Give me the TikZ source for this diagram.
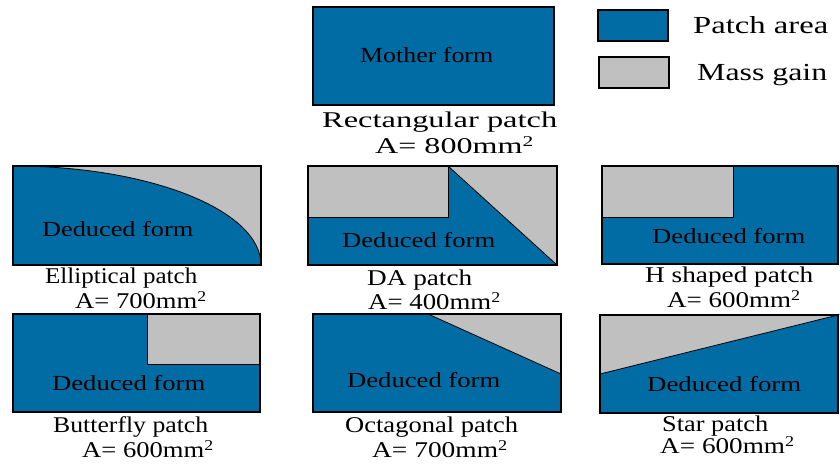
\documentclass[tikz,border=0pt]{standalone}
\usepackage{fontspec}
\usepackage{graphicx}
\setmainfont{Liberation Serif}
\definecolor{patchblue}{RGB}{0,108,163}
\definecolor{massgray}{RGB}{192,192,192}
% stretch a label to a given width (in pt) while keeping its height
\newcommand{\fitw}[2]{\resizebox{#1pt}{\height}{#2}}
\newcommand{\sqmm}{mm\raisebox{0.3em}{\fontsize{15}{15}\selectfont 2}}
\tikzset{
  outline/.style={draw=black,line width=1.1pt},
  cut/.style={draw=black,line width=0.8pt},
  blue/.style={fill=patchblue},
  gray/.style={fill=massgray},
  lbl/.style={anchor=base west,inner sep=0pt,font=\fontsize{22.5}{26}\selectfont,text=black},
  inlbl/.style={anchor=base west,inner sep=0pt,font=\fontsize{21.5}{25}\selectfont,text=black},
  leglbl/.style={anchor=base west,inner sep=0pt,font=\fontsize{24.5}{28}\selectfont,text=black},
}
\begin{document}
\begin{tikzpicture}[x=1pt,y=-1pt]
\useasboundingbox (0,0) rectangle (840,463);

% ---- mother form ----
\filldraw[blue,outline] (313,7) rectangle (554,105);
\node[inlbl] (mother) at (360,62) {\fitw{133}{Mother form}};
\node[lbl] (rectname) at (322,127) {\fitw{235}{Rectangular patch}};
\node[lbl] (rectarea) at (375,153) {\fitw{158}{A= 800\sqmm}};

% ---- legend ----
\filldraw[blue,outline] (598,10) rectangle (668,41);
\filldraw[gray,outline] (599,57) rectangle (669,88);
\node[leglbl] (legpatch) at (693,33) {\fitw{135}{Patch area}};
\node[leglbl] (legmass) at (697,80) {\fitw{130}{Mass gain}};

% ---- elliptical patch ----
\fill[gray] (13,166) rectangle (261,265);
\fill[blue] (13,265) -- (13,166) .. controls (150,166) and (261,210.3) .. (261,265) -- cycle;
\draw[cut] (13,166) .. controls (150,166) and (261,210.3) .. (261,265);
\draw[outline] (13,166) rectangle (261,265);
\node[inlbl] (elldf) at (42,236) {\fitw{151}{Deduced form}};
\node[lbl] (ellname) at (45,283) {\fitw{152}{Elliptical patch}};
\node[lbl] (ellarea) at (75,308) {\fitw{131}{A= 700\sqmm}};

% ---- DA patch ----
\fill[blue] (308,166) rectangle (557,265);
\filldraw[gray,cut] (308,166) rectangle (448,217);
\filldraw[gray,cut] (448,166) -- (557,166) -- (557,265) -- cycle;
\draw[outline] (308,166) rectangle (557,265);
\node[inlbl] (dadf) at (342,247) {\fitw{153}{Deduced form}};
\node[lbl] (daname) at (367,285) {\fitw{105}{DA patch}};
\node[lbl] (daarea) at (368,309) {\fitw{132}{A= 400\sqmm}};

% ---- H shaped patch ----
\fill[blue] (602,166) rectangle (838,264);
\filldraw[gray,cut] (602,166) rectangle (733,217);
\draw[outline] (602,166) rectangle (838,264);
\node[inlbl] (hdf) at (652,243) {\fitw{153}{Deduced form}};
\node[lbl] (hname) at (645,282) {\fitw{168}{H shaped patch}};
\node[lbl] (harea) at (667,307) {\fitw{133}{A= 600\sqmm}};

% ---- butterfly patch ----
\fill[blue] (13,314) rectangle (260,412);
\filldraw[gray,cut] (147,314) rectangle (260,364);
\draw[outline] (13,314) rectangle (260,412);
\node[inlbl] (bfdf) at (52,390) {\fitw{153}{Deduced form}};
\node[lbl] (bfname) at (53,432) {\fitw{155}{Butterfly patch}};
\node[lbl] (bfarea) at (82,457) {\fitw{131}{A= 600\sqmm}};

% ---- octagonal patch ----
\fill[blue] (313,314) rectangle (561,412);
\filldraw[gray,cut] (428,314) -- (561,314) -- (561,374) -- cycle;
\draw[outline] (313,314) rectangle (561,412);
\node[inlbl] (ocdf) at (347,387) {\fitw{153}{Deduced form}};
\node[lbl] (ocname) at (345,432) {\fitw{173}{Octagonal patch}};
\node[lbl] (ocarea) at (372,457) {\fitw{135}{A= 700\sqmm}};

% ---- star patch ----
\fill[blue] (600,315) rectangle (838,413);
\filldraw[gray,cut] (600,315) -- (838,315) -- (600,374) -- cycle;
\draw[outline] (600,315) rectangle (838,413);
\node[inlbl] (stdf) at (647,391) {\fitw{154}{Deduced form}};
\node[lbl] (stname) at (662,431) {\fitw{106}{Star patch}};
\node[lbl] (starea) at (660,453) {\fitw{134}{A= 600\sqmm}};
\end{tikzpicture}
\end{document}
